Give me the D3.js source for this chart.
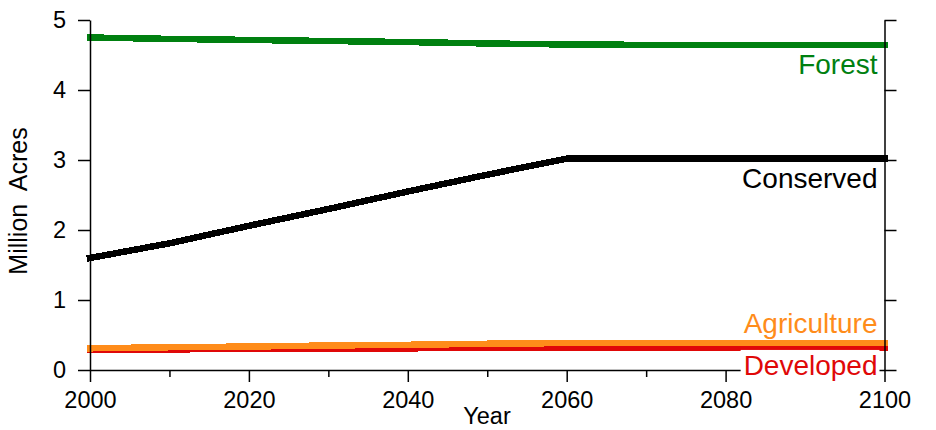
<!DOCTYPE html>
<html>
<head>
<meta charset="utf-8">
<script src="https://cdn.jsdelivr.net/npm/d3@7"></script>
<style>
  body { margin: 0; background: #fff; }
  svg { font-family: "Liberation Sans", Arial, Helvetica, sans-serif; }
</style>
</head>
<body>
<div id="chart"></div>
<script>
// land use projections, million acres, by decade
const years = [2000, 2010, 2020, 2030, 2040, 2050, 2060, 2070, 2080, 2090, 2100];
const forest = [4.75, 4.73, 4.715, 4.70, 4.685, 4.665, 4.65, 4.645, 4.645, 4.645, 4.645];
const conserved = [1.6, 1.81, 2.06, 2.3, 2.55, 2.79, 3.02, 3.02, 3.02, 3.02, 3.02];
const agriculture = [0.31, 0.325, 0.335, 0.35, 0.36, 0.375, 0.385, 0.385, 0.385, 0.385, 0.385];
const developed = [0.29, 0.295, 0.30, 0.305, 0.31, 0.315, 0.315, 0.315, 0.315, 0.315, 0.315];

const seriesNames = ["Developed", "Agriculture", "Conserved", "Forest"];
const seriesColors = ["#e00808", "#ff8c1a", "#000000", "#008010"];
const seriesValues = [developed, agriculture, conserved, forest];

const xTickValues = [2000, 2020, 2040, 2060, 2080, 2100];
const xMinorValues = [2010, 2030, 2050, 2070, 2090];
const yTickValues = [0, 1, 2, 3, 4, 5];

const width = 936, height = 430;
const margin = { top: 20, right: 51.5, bottom: 60, left: 90 };

const svg = d3.select("#chart").append("svg")
    .attr("width", width)
    .attr("height", height);

const x = d3.scaleLinear()
    .domain([2000, 2100])
    .range([margin.left, width - margin.right]);

const y = d3.scaleLinear()
    .domain([0, 5])
    .range([height - margin.bottom, margin.top]);

// lines
const line = d3.line()
    .x((d, i) => x(years[i]))
    .y(d => y(d));

seriesValues.forEach(function (vals, i) {
    svg.append("path")
        .datum(vals)
        .attr("d", line)
        .attr("fill", "none")
        .attr("stroke", seriesColors[i])
        .attr("stroke-width", 6.5)
        .attr("stroke-linecap", "square")
        .attr("shape-rendering", "crispEdges");
});

// axes
function styleAxis(g) {
    g.selectAll("path, line").attr("stroke", "#000").attr("stroke-width", 1.5);
    g.selectAll("text").attr("fill", "#000").attr("font-size", 23.5);
}

svg.append("g")
    .attr("transform", "translate(0," + y(0) + ")")
    .call(d3.axisBottom(x).tickValues(xMinorValues).tickSize(7).tickSizeOuter(0).tickFormat(""))
    .call(styleAxis)
    .call(g => g.select(".domain").remove());

svg.append("g")
    .attr("transform", "translate(0," + y(0) + ")")
    .call(d3.axisBottom(x).tickValues(xTickValues).tickSize(12).tickSizeOuter(0).tickPadding(9).tickFormat(d3.format("d")))
    .call(styleAxis);

svg.append("g")
    .attr("transform", "translate(" + x(2000) + ",0)")
    .call(d3.axisLeft(y).tickValues(yTickValues).tickSize(12).tickSizeOuter(0).tickPadding(12).tickFormat(d3.format("d")))
    .call(styleAxis);

svg.append("g")
    .attr("transform", "translate(" + x(2100) + ",0)")
    .call(d3.axisRight(y).tickValues(yTickValues).tickSize(12).tickSizeOuter(0).tickFormat(""))
    .call(styleAxis);

// axis titles
svg.append("text")
    .attr("x", 487)
    .attr("y", 424)
    .attr("text-anchor", "middle")
    .attr("font-size", 23.5)
    .text("Year");

svg.append("text")
    .attr("transform", "translate(27,201) rotate(-90)")
    .attr("text-anchor", "middle")
    .attr("font-size", 25)
    .style("white-space", "pre")
    .text("Million  Acres");

// series labels with white boxes
const labelOffsets = [27, -10, 29, 29];
const last = years.length - 1;
seriesNames.forEach(function (name, i) {
    const g = svg.append("g");
    const t = g.append("text")
        .attr("x", x(2100) - 7)
        .attr("y", y(seriesValues[i][last]) + labelOffsets[i])
        .attr("text-anchor", "end")
        .attr("font-size", 28)
        .attr("fill", seriesColors[i])
        .text(name);
    const b = t.node().getBBox();
    g.insert("rect", "text")
        .attr("x", b.x - 3)
        .attr("y", b.y)
        .attr("width", b.width + 5)
        .attr("height", b.height)
        .attr("fill", "#fff");
});
</script>
</body>
</html>
